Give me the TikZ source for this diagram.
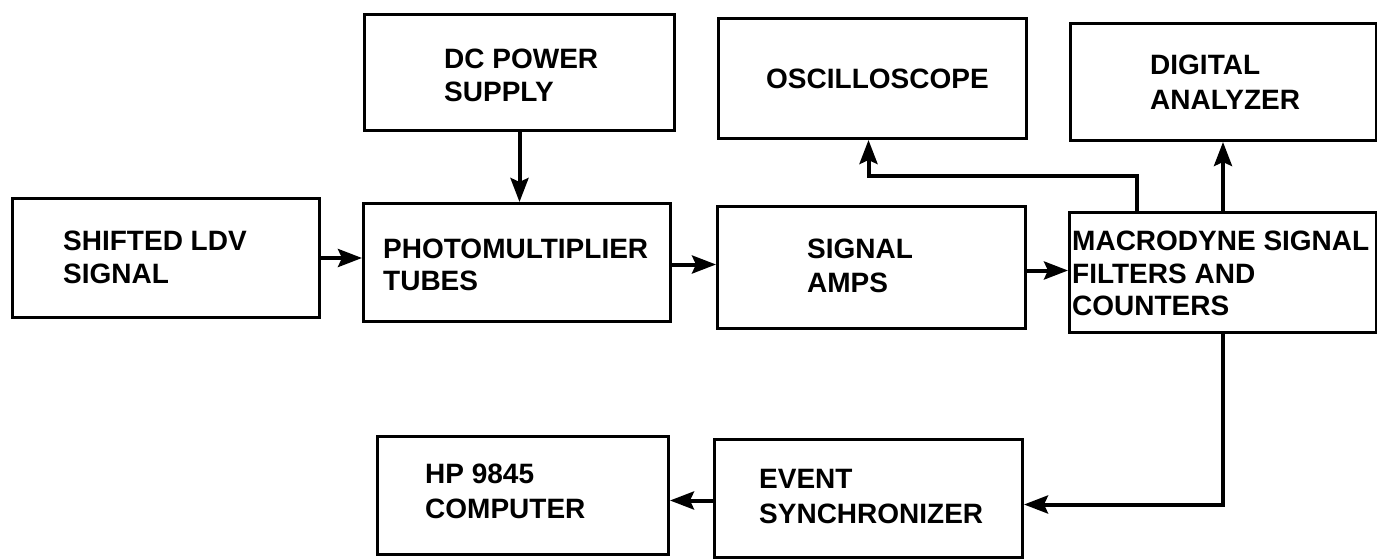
\documentclass[tikz,border=0pt]{standalone}
\usepackage{fontspec}
\setmainfont{Liberation Sans}
\usetikzlibrary{arrows.meta}
\tikzset{
  box/.style={draw, line width=3pt, inner sep=0pt},
  lbl/.style={anchor=base west, inner sep=0pt, font=\bfseries\fontsize{28}{28}\selectfont},
  arr/.style={line width=4pt, -{Stealth[length=24pt,width=18pt,inset=4pt]}}
}
\newcommand{\bxat}[5]{\node[box, anchor=north west, minimum width=#4pt-#2pt, minimum height=#5pt-#3pt] (#1) at (#2,#3) {};}
\begin{document}
\begin{tikzpicture}[x=1pt,y=-1pt]
\useasboundingbox (0,0) rectangle (1377,559);
% boxes
\bxat{ldv}{11}{197}{318}{316}
\bxat{dc}{363}{13}{673}{129}
\bxat{pmt}{362}{202}{669}{320}
\bxat{amps}{716}{205}{1024}{327}
\bxat{osc}{717}{17}{1025}{137}
\bxat{dig}{1069}{22}{1375}{139}
\bxat{mac}{1068}{211}{1375}{331}
\bxat{ev}{713}{438}{1021}{556}
\bxat{hp}{376}{435}{667}{553}
% labels
\node[lbl] (t1a) at (63,250) {SHIFTED LDV};
\node[lbl] (t1b) at (63,283) {SIGNAL};
\node[lbl] (t2a) at (444,69) {DC POWER};
\node[lbl] (t2b) at (444,102) {SUPPLY};
\node[lbl] (t3a) at (383,258) {PHOTOMULTIPLIER};
\node[lbl] (t3b) at (383,290) {TUBES};
\node[lbl] (t4a) at (807,258) {SIGNAL};
\node[lbl] (t4b) at (807,292) {AMPS};
\node[lbl] (t5) at (766,89) {OSCILLOSCOPE};
\node[lbl] (t6a) at (1150,75) {DIGITAL};
\node[lbl] (t6b) at (1150,110) {ANALYZER};
\node[lbl] (t7a) at (1072,250) {MACRODYNE SIGNAL};
\node[lbl] (t7b) at (1072,283) {FILTERS AND};
\node[lbl] (t7c) at (1072,315) {COUNTERS};
\node[lbl] (t8a) at (759,488) {EVENT};
\node[lbl] (t8b) at (759,523) {SYNCHRONIZER};
\node[lbl] (t9a) at (425,483) {HP 9845};
\node[lbl] (t9b) at (425,518) {COMPUTER};
% connectors
\coordinate (j) at (1137,176);
\draw[arr] (ldv.east) -- (ldv.east -| pmt.west);
\draw[arr] (dc.south) -- (dc.south |- pmt.north);
\draw[arr] ([yshift=-2pt]pmt.east) -- ([yshift=-2pt]pmt.east -| amps.west);
\draw[arr] ([yshift=-3pt]amps.east) -- ([yshift=-3pt]amps.east -| mac.west);
\draw[arr] (mac.north -| j) -- (j) -- ([xshift=-4pt]osc.south |- j) -- ([xshift=-4pt]osc.south);
\draw[arr] (mac.north) -- (mac.north |- dig.south);
\draw[arr] (mac.south) |- ([yshift=-6pt]ev.east);
\draw[arr] ([yshift=-2pt]ev.west) -- ([yshift=-2pt]ev.west -| hp.east);
\end{tikzpicture}
\end{document}
